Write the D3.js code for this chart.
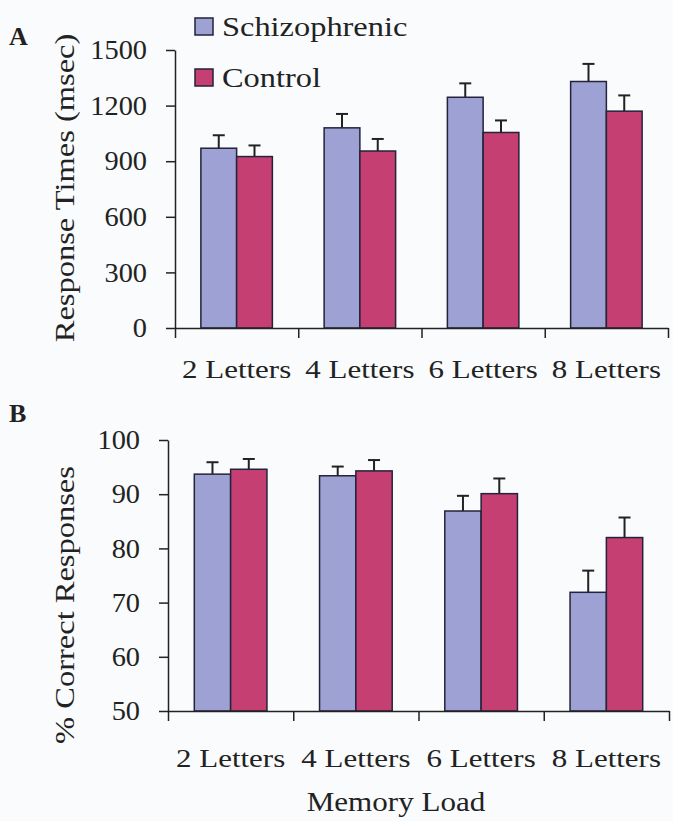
<!DOCTYPE html>
<html>
<head>
<meta charset="utf-8">
<script src="https://cdn.jsdelivr.net/npm/d3@7/dist/d3.min.js"></script>
<style>
  html, body { margin: 0; padding: 0; background: #f9fbfc; }
  svg { display: block; }
  text { font-family: "Liberation Serif", "Times New Roman", serif; fill: #222; }
</style>
</head>
<body>
<svg id="chart" width="673" height="821"></svg>
<script>
// ---- data ----
const categories = ["2 Letters", "4 Letters", "6 Letters", "8 Letters"];
const seriesNames = ["Schizophrenic", "Control"];
const rtSchizo = [970, 1080, 1245, 1330];
const rtSchizoErr = [70, 75, 75, 95];
const rtControl = [925, 955, 1055, 1170];
const rtControlErr = [60, 65, 65, 85];
const accSchizo = [93.7, 93.4, 86.9, 71.9];
const accSchizoErr = [2.2, 1.7, 2.8, 4.0];
const accControl = [94.6, 94.3, 90.1, 82.0];
const accControlErr = [1.9, 2.0, 2.8, 3.7];
const rtTicks = [0, 300, 600, 900, 1200, 1500];
const accTicks = [50, 60, 70, 80, 90, 100];

const colors = { "Schizophrenic": "#9da1d3", "Control": "#c63f72" };

const svg = d3.select("#chart");

function panel(opts) {
  const { xRange, yRange, yDomain, ticks, s, sErr, c, cErr, yTitle, yTitleY, labelDy, xTitle } = opts;
  const g = svg.append("g");
  const x = d3.scaleBand().domain(categories).range(xRange).paddingInner(0.42).paddingOuter(0.21);
  const x1 = d3.scaleBand().domain(seriesNames).range([0, x.bandwidth()]).padding(0);
  const y = d3.scaleLinear().domain(yDomain).range(yRange);
  const bounds = d3.scaleLinear().domain([0, categories.length]).range(xRange);

  const rows = categories.map((cat, i) => ({
    cat,
    vals: [
      { name: "Schizophrenic", v: s[i], e: sErr[i] },
      { name: "Control", v: c[i], e: cErr[i] }
    ]
  }));

  const grp = g.selectAll("g.grp").data(rows).join("g")
    .attr("transform", d => `translate(${x(d.cat)},0)`);

  grp.selectAll("line.err").data(d => d.vals).join("line")
    .attr("x1", d => x1(d.name) + x1.bandwidth() / 2)
    .attr("x2", d => x1(d.name) + x1.bandwidth() / 2)
    .attr("y1", d => y(d.v)).attr("y2", d => y(d.v + d.e))
    .attr("stroke", "#222").attr("stroke-width", 2);
  grp.selectAll("line.cap").data(d => d.vals).join("line")
    .attr("x1", d => x1(d.name) + x1.bandwidth() / 2 - 6)
    .attr("x2", d => x1(d.name) + x1.bandwidth() / 2 + 6)
    .attr("y1", d => y(d.v + d.e)).attr("y2", d => y(d.v + d.e))
    .attr("stroke", "#222").attr("stroke-width", 2);

  grp.selectAll("rect").data(d => d.vals).join("rect")
    .attr("x", d => x1(d.name))
    .attr("width", x1.bandwidth())
    .attr("y", d => y(d.v))
    .attr("height", d => y(yDomain[0]) - y(d.v))
    .attr("fill", d => colors[d.name])
    .attr("stroke", "#23233a").attr("stroke-width", 1.5);

  // y axis
  const ya = g.append("g").attr("transform", `translate(${xRange[0]},0)`)
    .call(d3.axisLeft(y).tickValues(ticks).tickSize(9).tickSizeOuter(0).tickPadding(19).tickFormat(d3.format("d")));
  ya.selectAll("path,line").attr("stroke", "#222").attr("stroke-width", 1.5);
  ya.selectAll("text").attr("font-size", 27).attr("fill", "#222").attr("data-stretch", 1.05)
    .style("font-family", '"Liberation Serif", "Times New Roman", serif');

  // x axis: line + boundary ticks
  const xb = g.append("g").attr("transform", `translate(0,${yRange[0]})`)
    .call(d3.axisBottom(bounds).ticks(categories.length).tickSize(10).tickSizeOuter(0).tickFormat(""));
  xb.selectAll("path,line").attr("stroke", "#222").attr("stroke-width", 1.5);

  const xl = g.append("g").attr("transform", `translate(0,${yRange[0]})`)
    .call(d3.axisBottom(x).tickSize(0).tickPadding(labelDy));
  xl.select(".domain").remove();
  xl.selectAll("text").attr("font-size", 26).attr("fill", "#222").attr("data-stretch", 1.19)
    .style("font-family", '"Liberation Serif", "Times New Roman", serif');

  g.append("text")
    .attr("transform", `translate(74,${yTitleY}) rotate(-90)`)
    .attr("text-anchor", "middle")
    .attr("font-size", 28).attr("data-stretch", 1.16)
    .text(yTitle);

  if (xTitle) {
    g.append("text").attr("x", 396).attr("y", 811).attr("text-anchor", "middle")
      .attr("font-size", 27).attr("data-stretch", 1.15).text(xTitle);
  }
}

panel({ xRange: [175, 668], yRange: [328, 50], yDomain: [0, 1500], ticks: rtTicks,
  s: rtSchizo, sErr: rtSchizoErr, c: rtControl, cErr: rtControlErr,
  yTitle: "Response Times (msec)", yTitleY: 188, labelDy: 32 });

panel({ xRange: [168, 669], yRange: [711, 440], yDomain: [50, 100], ticks: accTicks,
  s: accSchizo, sErr: accSchizoErr, c: accControl, cErr: accControlErr,
  yTitle: "% Correct Responses", yTitleY: 605, labelDy: 38, xTitle: "Memory Load" });

// panel letters
svg.append("text").attr("x", 9).attr("y", 45).attr("font-size", 26).attr("font-weight", "bold").text("A");
svg.append("text").attr("x", 9).attr("y", 422).attr("font-size", 26).attr("font-weight", "bold").text("B");

// legend
const leg = svg.append("g").selectAll("g").data(seriesNames).join("g")
  .attr("transform", (d, i) => `translate(195,${18 + i * 51})`);
leg.append("rect").attr("width", 18).attr("height", 17)
  .attr("fill", d => colors[d]).attr("stroke", "#23233a").attr("stroke-width", 1.5);
leg.append("text").attr("x", 27).attr("y", 18).attr("font-size", 27).attr("data-stretch", 1.2).text(d => d);

// widen glyphs to match the reference's broad serif face
svg.selectAll("text").each(function () {
  const k = +this.getAttribute("data-stretch");
  const w = this.getComputedTextLength();
  if (k && w > 0) {
    d3.select(this).attr("textLength", w * k).attr("lengthAdjust", "spacingAndGlyphs");
  }
});
</script>
</body>
</html>
